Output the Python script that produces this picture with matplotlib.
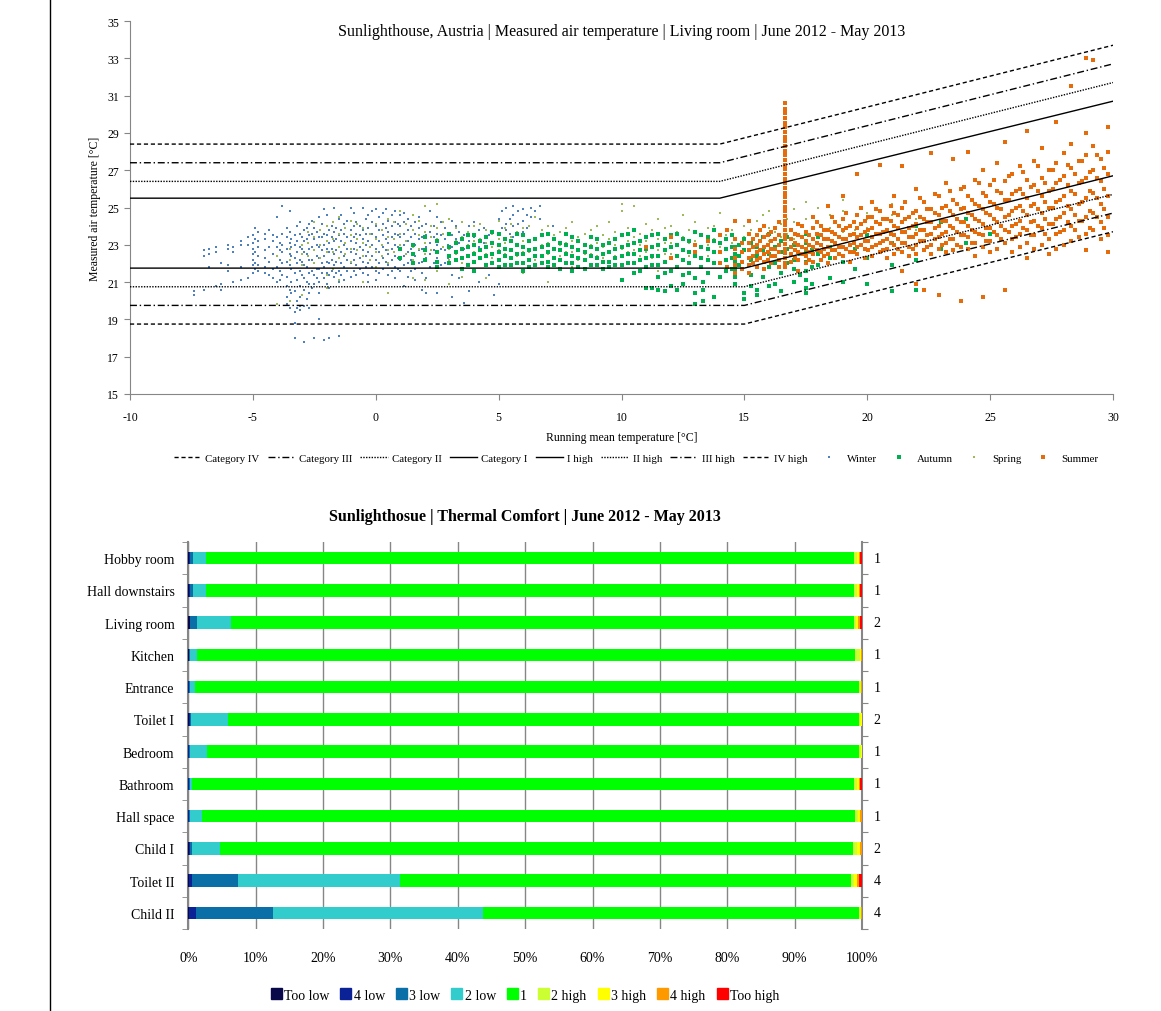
import matplotlib.pyplot as plt
import matplotlib.lines as mlines
import matplotlib.patches as mpatches
import numpy as np

plt.rcParams['font.family'] = ['Liberation Serif', 'DejaVu Serif']
plt.rcParams['axes.unicode_minus'] = False

# ============================== DATA: scatter (running mean, measured temps) ==============================
# each entry: (running mean temperature, [measured air temperatures on that day])
winter_cols = [
    (-7.4, [20.3, 20.5]), (-7.0, [22.4, 22.7, 20.6]), (-6.8, [22.5, 22.8, 21.8]),
    (-6.5, [22.9, 22.6, 20.8]), (-6.3, [22.0, 20.9, 20.6]), (-6.0, [22.8, 23.0, 21.9, 21.6]),
    (-5.8, [22.6, 22.9, 21.0]), (-5.5, [23.2, 23.0, 21.8, 21.1]), (-5.2, [23.4, 23.0, 21.2]),
    (-5.0, [23.5, 23.1, 22.8, 22.5, 22.2, 21.9, 21.5]), (-4.8, [23.7, 23.2, 22.9, 22.4, 21.9, 21.6]),
    (-4.5, [23.6, 23.3, 22.7, 22.3, 21.8, 21.5]), (-4.2, [23.5, 23.2, 22.5, 21.7, 21.2]),
    (-4.0, [24.5, 23.4, 22.9, 22.4, 21.8, 21.0]), (-3.8, [25.1, 23.6, 23.0, 22.6, 22.0, 21.4]),
    (-3.6, [23.9, 23.4, 22.8, 22.1, 21.3, 20.8, 20.2, 19.8]),
    (-3.5, [24.8, 23.7, 23.1, 22.5, 21.9, 20.6, 20.0, 19.6]),
    (-3.3, [23.5, 23.0, 22.3, 21.5, 20.5, 19.4, 18.8, 18.0]),
    (-3.1, [24.2, 23.6, 22.9, 22.2, 21.6, 20.8, 20.2, 19.7, 19.5]),
    (-2.9, [23.8, 23.2, 22.6, 21.9, 21.2, 20.6, 19.7, 17.8]),
    (-2.7, [24.1, 23.5, 22.8, 22.2, 21.5, 20.9, 20.4, 19.6]),
    (-2.5, [23.9, 23.3, 22.7, 22.0, 21.4, 20.9, 18.0]),
    (-2.3, [24.5, 23.4, 22.9, 22.3, 21.7, 21.0, 20.4, 19.0]),
    (-2.1, [24.9, 23.6, 23.0, 22.4, 21.8, 21.2, 17.9]),
    (-1.9, [23.8, 23.1, 22.6, 22.0, 21.4, 20.7, 18.0]),
    (-1.7, [25.0, 23.7, 23.2, 22.5, 21.9, 21.3]), (-1.5, [24.4, 23.5, 22.9, 22.3, 21.6, 21.0, 18.1]),
    (-1.3, [24.1, 23.6, 23.0, 22.4, 21.8, 21.1]), (-1.0, [25.0, 23.8, 23.2, 22.6, 22.0, 21.3]),
    (-0.8, [24.2, 23.6, 23.1, 22.5, 21.9, 21.4]), (-0.5, [25.0, 23.8, 23.3, 22.7, 22.1, 21.5]),
    (-0.3, [24.6, 23.9, 23.2, 22.6, 22.0, 21.4, 21.0]), (0.0, [24.9, 24.0, 23.4, 22.8, 22.2, 21.6, 21.1]),
    (0.3, [24.7, 24.1, 23.5, 22.9, 22.3, 21.7]), (0.5, [24.3, 23.7, 23.1, 22.5, 21.9, 21.4]),
    (0.8, [24.8, 24.2, 23.6, 23.0, 22.4, 21.8, 21.2]), (1.0, [24.6, 24.0, 23.4, 22.8, 22.2, 21.6]),
    (1.3, [24.4, 23.8, 23.2, 22.6, 22.0, 21.3]), (1.6, [24.2, 23.6, 23.0, 22.4, 21.7, 21.1]),
    (1.9, [24.0, 23.4, 22.8, 22.1, 21.5, 20.6]), (2.2, [24.8, 23.7, 23.1, 22.5, 21.8]),
    (2.5, [24.5, 23.6, 23.0, 22.3, 21.6, 20.4]), (2.8, [23.9, 23.3, 22.7, 22.0]),
    (3.1, [24.3, 23.5, 22.9, 21.4, 20.2]), (3.4, [23.7, 23.1, 21.2]), (3.8, [24.0, 23.2, 20.5]),
    (4.2, [23.8, 22.9, 21.0]), (4.6, [23.5, 21.4]), (5.0, [24.4, 23.6, 20.9]),
    (5.3, [25.0, 24.1, 23.8]), (5.6, [25.1, 24.6, 24.0, 23.4]), (6.0, [24.9, 24.3, 23.7]),
    (6.3, [25.0, 24.5]), (6.7, [25.1, 24.4]), (7.2, [24.0]),
    (-4.9, [23.9, 23.3, 22.6, 22.0, 21.7]), (-4.35, [23.8, 22.9, 22.1, 21.4]),
    (-3.9, [23.1, 22.7, 22.2, 21.6, 21.1]), (-3.45, [23.3, 22.9, 22.4, 21.7, 21.0, 20.4]),
    (-3.2, [24.0, 23.2, 22.6, 22.0, 21.1, 20.0, 19.6]), (-3.0, [23.4, 22.8, 22.1, 21.4, 20.3]),
    (-2.8, [23.9, 23.3, 22.5, 21.8, 21.0, 20.1]), (-2.6, [24.3, 23.6, 22.9, 22.2, 21.6, 20.7]),
    (-2.4, [23.7, 23.0, 22.4, 21.7, 21.2]), (-2.2, [24.1, 23.4, 22.7, 22.0, 21.5]),
    (-2.0, [24.6, 23.5, 22.8, 22.1, 21.5, 20.9]), (-1.8, [24.0, 23.4, 22.8, 22.2, 21.6]),
    (-1.6, [23.9, 23.3, 22.7, 22.1, 21.5]), (-1.4, [24.6, 23.8, 23.2, 22.6, 22.0, 21.4]),
    (-1.15, [24.3, 23.4, 22.8, 22.2, 21.6]), (-0.9, [24.7, 24.0, 23.4, 22.8, 22.2, 21.6]),
    (-0.65, [24.0, 23.5, 22.9, 22.3, 21.7]), (-0.4, [24.4, 23.6, 23.0, 22.4, 21.8]),
    (-0.15, [24.8, 24.2, 23.6, 23.0, 22.4, 21.8]), (0.15, [24.5, 23.8, 23.2, 22.6, 22.0, 21.5]),
    (0.4, [24.9, 23.9, 23.3, 22.7, 22.1]), (0.65, [24.6, 24.0, 23.4, 22.8, 22.2, 21.6]),
    (0.9, [24.1, 23.5, 22.9, 22.3, 21.7]), (1.15, [24.7, 24.2, 23.6, 23.0, 22.4, 21.9, 20.8]),
    (1.45, [24.0, 23.4, 22.8, 22.2, 21.6]), (1.75, [24.5, 23.9, 23.3, 22.7, 22.0]),
    (2.05, [24.1, 23.5, 22.9, 22.3, 21.2, 20.4]), (2.35, [24.0, 23.4, 22.7, 22.0]),
    (2.65, [24.2, 23.5, 22.8, 21.9]), (2.95, [23.6, 23.0, 22.3]), (3.25, [24.0, 23.3, 22.6]),
    (3.6, [23.5, 22.8, 19.9]), (4.0, [24.2, 23.4]), (4.4, [23.9, 23.1]), (4.8, [20.3]),
    (5.15, [24.8, 23.9]), (5.45, [24.4, 23.6]), (5.8, [24.8, 24.1]), (6.15, [24.6, 23.9]), (6.5, [24.8]),
]

spring_cols = [
    (-4.0, [19.8, 22.4]), (-3.5, [22.8, 22.2, 20.0]), (-3.0, [23.0, 22.5, 21.9, 20.3]),
    (-2.5, [24.2, 23.4, 22.7, 22.0]), (-2.0, [24.0, 23.2, 22.6, 21.4, 20.7]),
    (-1.5, [24.5, 23.6, 22.9, 22.3, 21.1]), (-1.0, [24.3, 23.5, 22.8, 22.1]),
    (-0.5, [23.9, 23.1, 22.4, 21.0]), (0.0, [24.1, 23.3, 22.6, 21.8]),
    (0.5, [24.4, 23.4, 22.7, 22.0, 20.4]), (1.0, [24.8, 23.6, 23.0, 22.3]),
    (1.5, [24.6, 23.8, 22.9, 22.2, 21.2]), (2.0, [25.1, 23.7, 23.1, 22.5, 21.1]),
    (2.5, [25.2, 23.9, 23.3, 22.6, 21.6]), (3.0, [24.4, 23.5, 22.8, 22.2, 20.9]),
    (3.5, [24.2, 23.4, 22.7, 22.0, 21.3]), (4.0, [24.0, 23.2, 22.6, 22.1]),
    (4.5, [23.8, 23.1, 22.5, 21.2]), (5.0, [24.3, 23.3, 22.7, 22.2]),
    (5.5, [24.1, 23.4, 22.8, 22.3]), (6.0, [23.9, 23.2, 22.6, 21.5]),
    (6.5, [24.5, 23.3, 22.7, 22.2]), (7.0, [24.0, 23.1, 22.5, 21.0]),
    (7.5, [23.7, 23.0, 22.4]), (8.0, [24.2, 23.2, 22.6, 21.8]), (8.5, [23.6, 23.0, 22.5]),
    (9.0, [24.0, 23.1, 22.4, 21.9]), (9.5, [24.2, 23.3, 22.6]), (10.0, [25.2, 24.8, 23.5, 22.8]),
    (10.5, [25.1, 23.4, 22.7, 22.1]), (11.0, [24.1, 23.2, 22.6]), (11.5, [24.4, 23.3, 22.7, 21.6]),
    (12.0, [24.0, 23.1, 22.5]), (12.5, [24.6, 23.4, 22.8]), (13.0, [24.2, 23.2, 22.6]),
    (13.5, [23.9, 23.0, 22.4]), (14.0, [24.7, 23.6, 22.9]), (14.5, [23.8, 23.1, 22.3]),
    (15.0, [24.0, 23.4]), (15.5, [24.3, 23.6]), (16.0, [24.8, 23.9, 23.2]), (16.5, [24.1, 23.4]),
    (17.0, [24.9, 24.2, 23.3]), (17.5, [25.3, 24.4, 23.7]), (18.0, [25.0, 24.3, 23.5]),
    (18.5, [24.6, 23.9]), (19.0, [25.4, 24.8, 23.7]), (19.5, [24.2, 23.8]),
    (20.0, [24.7, 24.4, 23.9]), (21.0, [25.2, 24.6]), (22.0, [24.4, 23.8]),
    (-2.75, [23.7, 23.1, 22.4]), (-2.25, [23.8, 23.0, 22.3]), (-1.75, [24.2, 23.3, 22.6, 21.7]),
    (-1.25, [23.9, 23.1, 22.5]), (-0.75, [24.1, 23.3, 22.7]), (-0.25, [23.6, 22.9, 22.2]),
    (0.25, [23.8, 23.0, 22.4]), (0.75, [24.2, 23.3, 22.6]), (1.25, [24.1, 23.2, 22.5]),
    (1.75, [24.3, 23.5, 22.8]), (2.25, [24.0, 23.4, 22.7]), (2.75, [24.2, 23.6, 22.9]),
    (3.25, [23.9, 23.2, 22.5]), (3.75, [23.7, 23.0, 22.4]), (4.25, [24.1, 23.3, 22.7]),
    (4.75, [23.6, 22.9, 22.3]), (5.25, [23.9, 23.1, 22.5]), (5.75, [23.7, 23.0, 22.4]),
    (6.25, [24.0, 23.2, 22.6]), (6.75, [23.8, 23.0, 22.4]), (7.25, [23.5, 22.8, 22.3]),
    (7.75, [23.9, 23.1, 22.6]), (8.25, [23.4, 22.8, 22.2]), (8.75, [23.8, 23.0, 22.5]),
    (9.25, [23.5, 22.9, 22.3]), (9.75, [23.7, 23.0, 22.4]), (10.25, [23.9, 23.2, 22.6]),
    (10.75, [23.6, 23.0, 22.4]), (11.25, [23.8, 22.9, 22.3]), (11.75, [23.9, 23.1, 22.5]),
    (12.25, [23.7, 23.0, 22.4]), (12.75, [23.8, 23.1, 22.4]), (13.25, [23.6, 22.9, 22.3]),
    (13.75, [24.0, 23.3, 22.6]), (14.25, [23.5, 22.8]), (15.25, [23.8, 23.1]),
    (15.75, [24.6, 23.4]), (16.25, [23.7]), (16.75, [24.4, 23.6]),
]

autumn_cols = [
    (1.0, [22.8, 22.3]), (1.5, [23.0, 22.5, 22.0]), (2.0, [23.4, 22.7, 22.2]),
    (2.5, [23.2, 22.6, 22.1, 21.8]), (3.0, [23.6, 22.9, 22.4, 22.0]), (3.5, [23.3, 22.8, 22.3, 21.7]),
    (4.0, [23.5, 23.0, 22.5, 22.1, 21.6]), (4.5, [23.4, 22.9, 22.4, 21.9]),
    (5.0, [23.6, 23.0, 22.6, 22.2, 21.8]), (5.5, [23.2, 22.7, 22.3, 21.9]),
    (6.0, [23.5, 22.9, 22.5, 22.0, 21.6]), (6.5, [23.3, 22.8, 22.4, 21.9]),
    (7.0, [23.6, 23.0, 22.6, 22.1, 21.8]), (7.5, [23.1, 22.7, 22.2, 21.7]),
    (8.0, [23.4, 22.9, 22.4, 22.0, 21.6]), (8.5, [23.0, 22.6, 22.2, 21.7]),
    (9.0, [23.3, 22.8, 22.3, 21.9]), (9.5, [23.1, 22.6, 22.1, 21.8]),
    (10.0, [23.5, 22.9, 22.4, 21.9, 21.1]), (10.5, [23.8, 23.1, 22.5, 22.0, 21.5]),
    (11.0, [23.4, 22.8, 22.3, 21.8, 20.7]), (11.5, [23.6, 23.0, 22.4, 21.9, 21.3, 20.6]),
    (12.0, [23.5, 22.9, 22.3, 21.6, 20.8]), (12.5, [23.3, 22.7, 22.2, 21.4, 20.9]),
    (13.0, [23.7, 23.0, 22.4, 21.2, 20.4, 19.8]), (13.3, [21.0, 20.6, 20.0]),
    (13.5, [23.4, 22.8, 22.2, 21.5]), (14.0, [23.1, 22.6, 22.0, 21.3]),
    (14.5, [23.5, 22.9, 22.3, 21.7]), (14.6, [22.9, 22.5, 22.1, 21.7, 21.3, 20.9]),
    (15.0, [23.3, 22.7, 20.4, 20.1]), (15.5, [22.9, 22.4, 20.6, 20.3]),
    (16.0, [23.6, 22.5, 21.8, 20.8]), (16.5, [23.2, 22.6, 21.5, 20.5]),
    (17.0, [23.0, 22.2, 21.7, 21.0]), (17.5, [23.6, 23.1, 22.6, 22.1, 21.6, 21.1, 20.7, 20.4]),
    (18.0, [23.4, 22.5, 21.9]), (18.5, [22.9, 22.3, 21.2]), (19.0, [23.3, 22.1, 21.0]),
    (19.5, [22.8, 21.7]), (20.0, [23.5, 22.3, 20.9]), (21.0, [23.1, 21.9, 20.5]),
    (22.0, [24.0, 22.2, 20.6]), (23.0, [24.2, 22.8]), (24.0, [24.4, 23.1]), (25.0, [23.6]),
    (3.25, [23.1, 22.6, 22.2]), (3.75, [23.5, 22.9, 22.4, 21.9]), (4.25, [23.2, 22.7, 22.3]),
    (4.75, [23.7, 23.1, 22.5, 22.0]), (5.25, [23.3, 22.8, 22.4, 21.9]),
    (5.75, [23.6, 23.0, 22.5, 22.0]), (6.25, [23.2, 22.7, 22.2, 21.8]),
    (6.75, [23.5, 22.9, 22.4, 22.0]), (7.25, [23.3, 22.8, 22.3, 21.9]),
    (7.75, [23.6, 23.0, 22.5, 22.0]), (8.25, [23.2, 22.7, 22.3, 21.8]),
    (8.75, [23.4, 22.9, 22.4, 21.9]), (9.25, [23.0, 22.5, 22.1, 21.7]),
    (9.75, [23.3, 22.8, 22.3, 21.9]), (10.25, [23.6, 23.0, 22.5, 22.0]),
    (10.75, [23.2, 22.7, 22.2, 21.6]), (11.25, [23.5, 22.9, 22.4, 21.9, 20.7]),
    (11.75, [23.3, 22.7, 22.1, 21.5, 20.5]), (12.25, [23.6, 23.0, 22.4, 21.8, 20.6]),
    (12.75, [23.2, 22.6, 22.0, 21.5]), (13.25, [23.5, 22.9, 22.3, 21.8]),
    (13.75, [23.8, 23.2, 22.6, 22.0, 20.2]), (14.25, [23.3, 22.8, 22.2, 21.6]),
    (14.8, [23.0, 22.4, 21.9]), (15.25, [23.1, 22.2, 21.4, 20.8]), (15.75, [23.4, 22.7, 21.3]),
    (16.25, [22.9, 22.0, 20.9]), (16.75, [23.4, 22.8, 22.0]), (17.25, [22.5, 21.4]),
    (17.75, [22.7, 21.8, 20.9]),
]

summer_cols = [
    (11.0, [22.9]), (12.0, [23.4, 22.3]), (13.0, [23.0, 22.6]), (13.5, [23.2]),
    (14.0, [23.5, 22.6, 22.0]), (14.3, [21.8, 23.8]),
    (14.6, [24.3, 23.3, 22.8, 22.3, 21.9, 21.5]), (14.9, [23.1, 22.6, 22.1, 21.7]),
    (15.2, [24.3, 23.6, 23.1, 22.7, 22.3, 21.9, 21.5]), (15.5, [23.5, 23.0, 22.6, 22.2, 21.8]),
    (15.8, [24.0, 23.4, 22.9, 22.5, 22.1, 21.7]), (16.1, [23.7, 23.2, 22.8, 22.4, 22.0]),
    (16.4, [24.2, 23.5, 23.0, 22.6, 22.2, 21.8]),
    (16.65, [21.8, 22.05, 22.3, 22.55, 22.8, 23.05, 23.3, 23.55, 23.8, 24.05, 24.3, 24.55,
             24.8, 25.05, 25.3, 25.55, 25.8, 26.05, 26.3, 26.55, 26.8, 27.05, 27.3, 27.55,
             27.8, 28.05, 28.3, 28.55, 28.8, 29.05, 29.3, 29.55, 29.8, 30.05, 30.3, 30.6]),
    (16.9, [23.8, 23.3, 22.9, 22.5, 22.1]), (17.2, [24.1, 23.5, 23.0, 22.6, 22.2, 21.6]),
    (17.5, [23.7, 23.2, 22.8, 22.4, 22.0]), (17.8, [24.5, 23.9, 23.3, 22.9, 22.5, 22.1]),
    (18.1, [24.0, 23.5, 23.0, 22.6, 22.2]), (18.4, [25.1, 23.8, 23.3, 22.9, 22.5, 22.0]),
    (18.7, [24.2, 23.6, 23.1, 22.7, 22.3]), (19.0, [25.6, 24.4, 23.8, 23.3, 22.9, 22.4]),
    (19.3, [24.0, 23.5, 23.0, 22.6, 22.1]), (19.6, [26.8, 24.6, 23.9, 23.4, 22.9, 22.5]),
    (19.9, [24.3, 23.7, 23.2, 22.8, 22.3]), (20.2, [25.3, 24.5, 23.9, 23.4, 22.9, 22.4]),
    (20.5, [27.3, 24.8, 24.1, 23.6, 23.1, 22.6]), (20.8, [24.4, 23.8, 23.3, 22.8, 22.3]),
    (21.1, [25.6, 24.7, 24.0, 23.5, 23.0, 22.5]), (21.4, [27.2, 25.0, 24.2, 23.7, 23.1, 22.6, 21.6]),
    (21.7, [24.5, 23.9, 23.4, 22.9, 22.4]), (22.0, [26.0, 24.8, 24.1, 23.6, 23.0, 22.5, 20.9]),
    (22.3, [25.3, 24.4, 23.8, 23.2, 22.7, 20.6]), (22.6, [27.9, 24.9, 24.2, 23.6, 23.0, 22.5]),
    (22.9, [25.6, 24.6, 24.0, 23.4, 22.8, 20.3]), (23.2, [26.3, 25.1, 24.3, 23.7, 23.1, 22.6]),
    (23.5, [27.6, 25.4, 24.6, 23.9, 23.3, 22.7]), (23.8, [26.0, 24.9, 24.2, 23.5, 22.9, 20.0]),
    (24.1, [28.0, 25.6, 24.7, 24.0, 23.4, 22.8]), (24.4, [26.5, 25.2, 24.4, 23.7, 23.1, 22.4]),
    (24.7, [27.0, 25.8, 24.9, 24.1, 23.5, 22.9, 20.2]), (25.0, [26.2, 25.3, 24.6, 23.9, 23.2, 22.6]),
    (25.3, [27.4, 25.9, 25.0, 24.2, 23.5, 22.8]), (25.6, [28.5, 26.4, 25.4, 24.5, 23.8, 23.1, 20.6]),
    (25.9, [26.8, 25.7, 24.8, 24.0, 23.3, 22.6]), (26.2, [27.2, 26.0, 25.1, 24.3, 23.6, 22.9]),
    (26.5, [29.1, 26.5, 25.5, 24.6, 23.8, 23.1, 22.3]), (26.8, [27.5, 26.2, 25.2, 24.3, 23.5, 22.8]),
    (27.1, [28.2, 26.6, 25.6, 24.7, 23.9, 23.0]), (27.4, [27.0, 25.9, 25.0, 24.1, 23.3, 22.5]),
    (27.7, [29.6, 27.4, 26.3, 25.3, 24.4, 23.6, 22.8]), (28.0, [27.9, 26.7, 25.6, 24.7, 23.8, 23.0]),
    (28.3, [31.5, 28.4, 27.1, 25.9, 24.9, 24.0, 23.2]), (28.6, [27.5, 26.3, 25.2, 24.3, 23.4]),
    (28.9, [33.0, 29.0, 27.8, 26.6, 25.5, 24.5, 23.6, 22.7]), (29.2, [32.9, 28.3, 27.0, 25.8, 24.7, 23.8]),
    (29.5, [27.6, 26.4, 25.2, 24.2, 23.3]), (29.8, [29.3, 28.0, 26.8, 25.6, 24.5, 23.5, 22.6]),
    (15.35, [23.3, 22.9, 22.4, 22.0]), (15.65, [23.8, 23.2, 22.7, 22.3]),
    (15.95, [23.5, 23.0, 22.6, 22.2]), (16.25, [23.9, 23.3, 22.8, 22.4]),
    (17.05, [23.6, 23.1, 22.7, 22.3]), (17.35, [24.0, 23.4, 22.9, 22.5]),
    (17.65, [23.5, 23.0, 22.6, 22.2]), (17.95, [24.2, 23.6, 23.1, 22.7]),
    (18.25, [23.8, 23.3, 22.8, 22.4]), (18.55, [24.5, 23.7, 23.2, 22.7]),
    (18.85, [24.0, 23.4, 22.9, 22.5]), (19.15, [24.7, 23.9, 23.3, 22.8]),
    (19.45, [24.2, 23.6, 23.1, 22.6]), (19.75, [25.0, 24.1, 23.5, 23.0]),
    (20.05, [24.5, 23.8, 23.2, 22.7]), (20.35, [24.9, 24.2, 23.6, 23.0]),
    (20.65, [24.4, 23.7, 23.2, 22.7]), (20.95, [25.1, 24.3, 23.6, 23.1]),
    (21.25, [24.6, 23.9, 23.3, 22.8]), (21.55, [25.3, 24.4, 23.7, 23.1]),
    (21.85, [24.7, 24.0, 23.4, 22.8]), (22.15, [25.5, 24.5, 23.8, 23.2]),
    (22.45, [24.9, 24.2, 23.5, 22.9]), (22.75, [25.7, 24.7, 23.9, 23.3]),
    (23.05, [25.0, 24.3, 23.6, 23.0]), (23.35, [25.9, 24.8, 24.0, 23.3]),
    (23.65, [25.2, 24.4, 23.7, 23.0]), (23.95, [26.1, 25.0, 24.2, 23.5]),
    (24.25, [25.4, 24.6, 23.8, 23.1]), (24.55, [26.3, 25.1, 24.3, 23.6]),
    (24.85, [25.6, 24.7, 23.9, 23.2]), (25.15, [26.5, 25.2, 24.4, 23.7]),
    (25.45, [25.8, 24.9, 24.0, 23.3]), (25.75, [26.7, 25.4, 24.6, 23.7]),
    (26.05, [25.9, 25.0, 24.1, 23.4]), (26.35, [26.9, 25.7, 24.8, 23.9]),
    (26.65, [26.1, 25.1, 24.2, 23.5]), (26.95, [27.2, 25.9, 24.9, 24.0]),
    (27.25, [26.3, 25.3, 24.4, 23.6]), (27.55, [27.0, 26.0, 25.0, 24.1]),
    (27.85, [26.5, 25.4, 24.5, 23.7]), (28.15, [27.3, 26.2, 25.1, 24.2]),
    (28.45, [26.8, 25.7, 24.6, 23.8]), (28.75, [27.5, 26.4, 25.3, 24.3]),
    (29.05, [26.9, 25.9, 24.8, 23.9]), (29.35, [27.8, 26.6, 25.5, 24.5]),
    (29.65, [27.1, 26.0, 24.9, 23.9]),
]

# comfort limits (knots)
upper_x = [-10, 14, 30]
lower_x = [-10, 15, 30]
cat_high = {'I high': [25.5, 25.5, 30.7], 'II high': [26.4, 26.4, 31.7],
            'III high': [27.4, 27.4, 32.7], 'IV high': [28.4, 28.4, 33.7]}
cat_low = {'Category IV': [18.75, 18.75, 23.7], 'Category III': [19.75, 19.75, 24.7],
           'Category II': [20.75, 20.75, 25.7], 'Category I': [21.75, 21.75, 26.7]}

# ============================== DATA: thermal comfort bars ==============================
rooms = ['Hobby room', 'Hall downstairs', 'Living room', 'Kitchen', 'Entrance', 'Toilet I',
         'Bedroom', 'Bathroom', 'Hall space', 'Child I', 'Toilet II', 'Child II']
room_cat = ['1', '1', '2', '1', '1', '2', '1', '1', '1', '2', '4', '4']
too_low = [0.15, 0.15, 0.2, 0.05, 0.0, 0.1, 0.0, 0.0, 0.0, 0.05, 0.1, 0.1]
low_4 = [0.1, 0.1, 0.1, 0.05, 0.05, 0.1, 0.05, 0.05, 0.05, 0.15, 0.5, 1.0]
low_3 = [0.4, 0.4, 1.0, 0.2, 0.2, 0.2, 0.15, 0.15, 0.15, 0.4, 6.8, 11.4]
low_2 = [2.0, 2.0, 5.1, 0.95, 0.75, 5.5, 2.6, 0.4, 1.9, 4.1, 24.0, 31.2]
cat_1 = [96.15, 96.15, 92.4, 97.7, 98.5, 93.7, 96.7, 98.2, 96.9, 93.9, 66.9, 55.9]
high_2 = [0.45, 0.45, 0.35, 0.75, 0.3, 0.1, 0.35, 0.45, 0.4, 0.6, 0.45, 0.3]
high_3 = [0.3, 0.3, 0.3, 0.2, 0.0, 0.3, 0.15, 0.3, 0.35, 0.5, 0.55, 0.0]
high_4 = [0.2, 0.2, 0.25, 0.1, 0.2, 0.0, 0.0, 0.2, 0.2, 0.3, 0.2, 0.1]
too_high = [0.25, 0.25, 0.3, 0.0, 0.0, 0.0, 0.0, 0.25, 0.05, 0.0, 0.5, 0.0]
bar_labels = ['Too low', '4 low', '3 low', '2 low', '1', '2 high', '3 high', '4 high', 'Too high']
bar_colors = ['#08084a', '#0a2296', '#0a6fa6', '#33cccc', '#00ff00', '#ccff33', '#ffff00',
              '#ff9900', '#ff0000']


def flatten(cols):
    xs, ys = [], []
    for x, yl in cols:
        xs += [x] * len(yl)
        ys += yl
    return xs, ys


fig = plt.figure(figsize=(11.61, 10.12), dpi=100)
fig.add_artist(mlines.Line2D([50 / 1161, 50 / 1161], [0, 1], color='black', lw=1.0))

grey = '#868686'

# ------------------------------- top: scatter chart -------------------------------
ax = fig.add_axes([130 / 1161, 1 - 395 / 1012, 983 / 1161, 373 / 1012])

styles_low = {'Category IV': (0, (3, 2)), 'Category III': (0, (5, 2, 1, 2)),
              'Category II': (0, (1, 1)), 'Category I': '-'}
styles_high = {'I high': '-', 'II high': (0, (1, 1)), 'III high': (0, (5, 2, 1, 2)),
               'IV high': (0, (3, 2))}

handles = []
for name, vals in cat_low.items():
    h, = ax.plot(lower_x, vals, color='black', lw=1.0, ls=styles_low[name], label=name, zorder=3)
    handles.append(h)
for name, vals in cat_high.items():
    h, = ax.plot(upper_x, vals, color='black', lw=1.0, ls=styles_high[name], label=name, zorder=3)
    handles.append(h)

wx, wy = flatten(winter_cols)
ax_, ay_ = flatten(autumn_cols)
sx, sy = flatten(spring_cols)
ux, uy = flatten(summer_cols)
h_w, = ax.plot(wx, wy, ls='none', marker='s', ms=1.9, mew=0, color='#4f81bd', label='Winter', zorder=2)
h_s, = ax.plot(sx, sy, ls='none', marker='s', ms=1.8, mew=0, color='#9bbb59', label='Spring', zorder=2)
h_a, = ax.plot(ax_, ay_, ls='none', marker='s', ms=2.4, mew=0, color='#00b050', label='Autumn', zorder=2)
h_u, = ax.plot(ux, uy, ls='none', marker='s', ms=2.2, mew=0, color='#e46c0a', label='Summer', zorder=2)
handles += [h_w, h_a, h_s, h_u]

ax.set_xlim(-10, 30)
ax.set_ylim(15, 35)
ax.set_xticks(np.arange(-10, 31, 5))
ax.set_yticks(np.arange(15, 36, 2))
for s in ['top', 'right']:
    ax.spines[s].set_visible(False)
for s in ['left', 'bottom']:
    ax.spines[s].set_color(grey)
ax.tick_params(direction='out', color=grey, length=4, labelsize=8.5, pad=8)
ax.tick_params(axis='y', pad=4)
ax.set_xlabel('Running mean temperature [°C]', fontsize=8.5, labelpad=6)
ax.set_ylabel('Measured air temperature [°C]', fontsize=8.5, labelpad=4)
ax.text(0.5, 0.995, 'Sunlighthouse, Austria | Measured air temperature | Living room | June 2012 - May 2013',
        transform=ax.transAxes, ha='center', va='top', fontsize=11.5)

fig.legend(handles=handles, labels=[h.get_label() for h in handles], loc='center',
           bbox_to_anchor=(636 / 1161, 1 - 459 / 1012), ncol=12, frameon=False, fontsize=7.8,
           handlelength=2.5, columnspacing=0.75, handletextpad=0.4, markerscale=1.0)

# ------------------------------- bottom: stacked bars -------------------------------
bx = fig.add_axes([188.3 / 1161, 1 - 930 / 1012, 673.7 / 1161, 387 / 1012])
series = [too_low, low_4, low_3, low_2, cat_1, high_2, high_3, high_4, too_high]
ypos = np.arange(len(rooms))
left = np.zeros(len(rooms))
for vals, lab, col in zip(series, bar_labels, bar_colors):
    v = np.array(vals) / 100.0
    bx.barh(ypos, v, left=left, height=0.39, color=col, label=lab, lw=0, zorder=3)
    left += v

bx.set_xlim(0, 1)
bx.set_ylim(len(rooms) - 0.5, -0.5)
bx.set_xticks(np.arange(0, 1.01, 0.1))
bx.set_xticklabels([f'{i}%' for i in range(0, 101, 10)], fontsize=10)
bx.set_yticks(ypos)
bx.set_yticklabels(rooms, fontsize=10)
bx.set_yticks(np.arange(-0.5, len(rooms), 1), minor=True)
bx.tick_params(axis='y', which='major', length=0, pad=10)
bx.tick_params(axis='y', which='minor', length=4, color=grey, direction='out')
bx.tick_params(axis='x', length=0, pad=16)
bx.grid(axis='x', color=grey, lw=1.0, zorder=0)
for s in ['top', 'bottom']:
    bx.spines[s].set_visible(False)
for s in ['left', 'right']:
    bx.spines[s].set_color(grey)
    bx.spines[s].set_linewidth(1.5)

rx = bx.secondary_yaxis('right')
rx.set_yticks(np.arange(-0.5, len(rooms), 1))
rx.set_yticklabels([])
rx.tick_params(length=4, color=grey, direction='out')
rx.spines['right'].set_visible(False)

for yy, c in zip(ypos, room_cat):
    bx.text(1.022, yy, c, transform=bx.get_yaxis_transform(), ha='center', va='center', fontsize=10)

bx.set_title('Sunlighthosue | Thermal Comfort | June 2012 - May 2013', fontsize=11.5,
             fontweight='bold', pad=16)

patches = [mpatches.Patch(color=c, label=l) for l, c in zip(bar_labels, bar_colors)]
fig.legend(handles=patches, loc='center', bbox_to_anchor=(525 / 1161, 1 - 996 / 1012), ncol=9,
           frameon=False, fontsize=10, handlelength=0.8, handleheight=0.8, handletextpad=0.15,
           columnspacing=0.8)

fig.savefig('out.png', dpi=100)
